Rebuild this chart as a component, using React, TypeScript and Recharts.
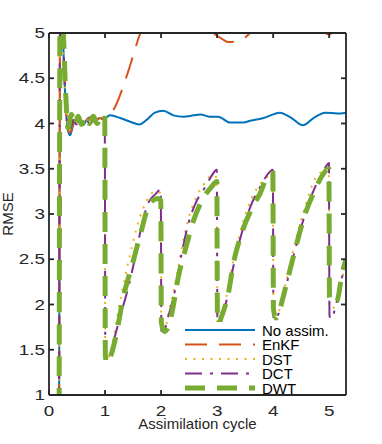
import { LineChart, Line, XAxis, YAxis } from 'recharts';

const xTicks = [0, 1, 2, 3, 4, 5];
const yTicks = [1, 1.5, 2, 2.5, 3, 3.5, 4, 4.5, 5];

// [cycle, rmse]
const noAssim = [
  [0.18, 0.5], [0.2, 5.6], [0.24, 5.1], [0.29, 4.3], [0.34, 3.92], [0.375, 3.87], [0.43, 3.98],
  [0.49, 4.06], [0.55, 4.02], [0.61, 3.98], [0.67, 4.04], [0.73, 4.07], [0.79, 4.03], [0.85, 4.04],
  [0.91, 4.06], [0.97, 4.05], [1.03, 4.07], [1.09, 4.09], [1.27, 4.06], [1.45, 4.02], [1.61, 3.99],
  [1.74, 4.04], [1.89, 4.12], [2.04, 4.14], [2.22, 4.09], [2.4, 4.075], [2.58, 4.09], [2.7, 4.1],
  [2.875, 4.075], [3.02, 4.075], [3.23, 4.01], [3.47, 4.01], [3.59, 4.03], [3.83, 4.06], [4.12, 4.12],
  [4.33, 4.06], [4.53, 3.98], [4.72, 4.06], [4.93, 4.12], [5.14, 4.11], [5.3, 4.12],
];

const enkf = [
  [0.18, 0.5], [0.2, 5.6], [0.24, 5.1], [0.29, 4.3], [0.34, 3.93], [0.375, 3.9], [0.43, 4.0],
  [0.49, 4.05], [0.55, 4.01], [0.61, 3.99], [0.67, 4.04], [0.73, 4.06], [0.79, 4.02], [0.85, 4.04],
  [0.91, 4.06], [0.97, 4.05], [1.0, 4.06], [1.15, 4.15], [1.4, 4.55], [1.63, 5.0], [1.9, 5.35],
  [2.3, 5.5], [2.6, 5.3], [2.85, 5.03], [2.95, 4.99], [3.1, 4.93], [3.2, 4.9], [3.35, 4.91],
  [3.5, 4.95], [3.62, 5.02], [3.9, 5.2], [4.4, 5.3], [4.8, 5.1], [5.0, 4.98], [5.1, 5.05], [5.3, 5.2],
];

const dst = [
  [0.18, 0.5], [0.2, 5.6], [0.24, 5.1], [0.29, 4.3], [0.34, 3.95], [0.38, 3.96], [0.43, 4.04],
  [0.49, 3.99], [0.55, 4.06], [0.61, 4.0], [0.67, 4.04], [0.73, 3.99], [0.8, 4.06], [0.86, 4.0],
  [0.92, 4.05], [0.995, 4.05],
  [1.005, 1.5], [1.04, 1.4], [1.12, 1.52], [1.24, 1.94], [1.36, 2.31], [1.48, 2.64], [1.625, 2.97],
  [1.74, 3.14], [1.83, 3.23], [1.95, 3.25], [1.995, 3.22],
  [2.005, 1.72], [2.05, 1.68], [2.13, 1.9], [2.25, 2.22], [2.37, 2.62], [2.49, 2.95], [2.64, 3.2],
  [2.79, 3.35], [2.91, 3.43], [2.995, 3.4],
  [3.005, 1.8], [3.04, 1.78], [3.17, 2.1], [3.29, 2.48], [3.44, 2.86], [3.62, 3.18], [3.77, 3.33],
  [3.86, 3.39], [3.995, 3.45],
  [4.005, 1.88], [4.04, 1.85], [4.21, 2.2], [4.39, 2.68], [4.57, 3.08], [4.75, 3.39], [4.87, 3.47],
  [4.995, 3.5],
  [5.005, 2.0], [5.05, 1.95], [5.12, 2.02], [5.2, 2.22], [5.3, 2.45],
];

const dct = [
  [0.18, 0.5], [0.2, 5.6], [0.24, 5.1], [0.29, 4.3], [0.34, 3.95], [0.38, 3.95], [0.43, 4.04],
  [0.49, 3.99], [0.55, 4.06], [0.61, 4.0], [0.67, 4.04], [0.73, 3.99], [0.8, 4.06], [0.86, 4.0],
  [0.92, 4.05], [0.995, 4.05],
  [1.005, 1.46], [1.05, 1.39], [1.15, 1.59], [1.27, 1.87], [1.42, 2.2], [1.54, 2.53], [1.65, 2.86],
  [1.77, 3.12], [1.9, 3.22], [1.995, 3.27],
  [2.005, 1.72], [2.03, 1.68], [2.13, 1.87], [2.25, 2.16], [2.37, 2.57], [2.49, 2.9], [2.64, 3.15],
  [2.79, 3.3], [2.91, 3.43], [2.995, 3.49],
  [3.005, 1.8], [3.03, 1.77], [3.17, 2.05], [3.29, 2.42], [3.44, 2.79], [3.62, 3.12], [3.77, 3.3],
  [3.88, 3.42], [3.995, 3.49],
  [4.005, 1.86], [4.03, 1.83], [4.21, 2.16], [4.39, 2.6], [4.57, 3.0], [4.75, 3.3], [4.88, 3.45],
  [4.995, 3.56],
  [5.005, 1.88], [5.03, 1.84], [5.1, 1.94], [5.2, 2.23], [5.3, 2.45],
];

const dwt = [
  [0.18, 0.5], [0.2, 5.6], [0.25, 5.1], [0.3, 4.3], [0.34, 3.95], [0.4, 4.1], [0.46, 3.98],
  [0.52, 4.08], [0.58, 3.99], [0.64, 4.08], [0.72, 4.0], [0.79, 4.08], [0.86, 4.0], [0.93, 4.09],
  [0.995, 4.1],
  [1.005, 1.45], [1.03, 1.35], [1.1, 1.43], [1.18, 1.61], [1.33, 2.09], [1.49, 2.45], [1.65, 2.82],
  [1.8, 3.12], [1.95, 3.17], [1.995, 3.15],
  [2.005, 1.8], [2.06, 1.7], [2.1, 1.72], [2.19, 1.9], [2.31, 2.31], [2.43, 2.6], [2.58, 2.93],
  [2.73, 3.15], [2.9, 3.3], [2.995, 3.36],
  [3.005, 1.9], [3.03, 1.79], [3.08, 1.87], [3.2, 2.12], [3.29, 2.45], [3.44, 2.79], [3.65, 3.1],
  [3.77, 3.23], [3.89, 3.41], [3.995, 3.45],
  [4.005, 1.95], [4.05, 1.85], [4.12, 1.95], [4.21, 2.16], [4.39, 2.6], [4.57, 3.0], [4.75, 3.27],
  [4.87, 3.42], [4.995, 3.5],
  [5.005, 2.08], [5.05, 2.01], [5.14, 2.04], [5.23, 2.34], [5.3, 2.5],
];

const toPoints = (rows: number[][]) => rows.map(([t, v]) => ({ t, v }));

const series = [
  { name: 'No assim.', rows: noAssim, color: '#0072BD', width: 2, dash: undefined },
  { name: 'EnKF', rows: enkf, color: '#D95319', width: 2, dash: '22 12' },
  { name: 'DST', rows: dst, color: '#EDB120', width: 2, dash: '2 6.5' },
  { name: 'DCT', rows: dct, color: '#7E2F8E', width: 2, dash: '17 8 3 8' },
  { name: 'DWT', rows: dwt, color: '#77AC30', width: 5, dash: '20 12' },
];

const ink = '#262626';
const font = '"Liberation Sans", Arial, Helvetica, sans-serif';
const lineStyle = { stroke: ink, strokeWidth: 1.8 };
const TICK = 5;

// tick labels in the original are drawn a bit wider than plain Arial
function TickText({ x, y, anchor, children }: any) {
  return (
    <text
      transform={`translate(${x} ${y}) scale(1.3 1)`}
      textAnchor={anchor}
      fill={ink}
      fontSize={14.5}
      fontFamily={font}
    >
      {children}
    </text>
  );
}

const BottomTick = ({ x, y, payload }: any) => (
  <g>
    <line x1={x} x2={x} y1={y} y2={y - TICK} {...lineStyle} />
    <TickText x={x} y={y + 20.5} anchor="middle">{payload.value}</TickText>
  </g>
);

const LeftTick = ({ x, y, payload }: any) => (
  <g>
    <line x1={x} x2={x + TICK} y1={y} y2={y} {...lineStyle} />
    <TickText x={x - 4} y={y + 5} anchor="end">{payload.value}</TickText>
  </g>
);

const TopTick = ({ x, y }: any) => <line x1={x} x2={x} y1={y} y2={y + TICK} {...lineStyle} />;
const RightTick = ({ x, y }: any) => <line x1={x - TICK} x2={x} y1={y} y2={y} {...lineStyle} />;

function ChartLegend() {
  return (
    <div style={{ position: 'absolute', left: 183, top: 322, width: 162, height: 72, background: '#fff' }}>
      <svg width={162} height={72} style={{ overflow: 'visible' }}>
        {series.map((s, i) => {
          const y = 8 + i * 14.5;
          return (
            <g key={s.name}>
              <line x1={2} x2={72} y1={y} y2={y} stroke={s.color} strokeWidth={s.width} strokeDasharray={s.dash} />
              <text x={79} y={y + 5.5} fill="#000" fontSize={15} fontFamily={font}>{s.name}</text>
            </g>
          );
        })}
      </svg>
    </div>
  );
}

export default function App() {
  return (
    <div style={{ position: 'relative', width: 382, height: 444, background: '#fff' }}>
      <style>{'body{margin:0}'}</style>
      <LineChart width={382} height={444} margin={{ top: 32, right: 35, bottom: 0, left: 0 }}>
        <XAxis
          type="number"
          dataKey="t"
          domain={[0, 5.3]}
          ticks={xTicks}
          interval={0}
          allowDataOverflow
          height={49}
          tickSize={0}
          tickMargin={0}
          tick={BottomTick}
          tickLine={false}
          axisLine={lineStyle}
          label={{
            content: ({ viewBox }: any) => (
              <text x={viewBox.x + viewBox.width / 2} y={429} textAnchor="middle" fill={ink} fontSize={15} fontFamily={font}>
                Assimilation cycle
              </text>
            ),
          }}
        />
        <XAxis
          xAxisId="top"
          orientation="top"
          type="number"
          dataKey="t"
          domain={[0, 5.3]}
          ticks={xTicks}
          interval={0}
          allowDataOverflow
          height={1}
          tickSize={0}
          tickMargin={0}
          tick={TopTick}
          tickLine={false}
          axisLine={lineStyle}
        />
        <YAxis
          type="number"
          domain={[1, 5]}
          ticks={yTicks}
          interval={0}
          allowDataOverflow
          width={49}
          tickSize={0}
          tickMargin={0}
          tick={LeftTick}
          tickLine={false}
          axisLine={lineStyle}
          label={{
            content: ({ viewBox }: any) => {
              const cy = viewBox.y + viewBox.height / 2;
              return (
                <text x={12.5} y={cy} transform={`rotate(-90 12.5 ${cy})`} textAnchor="middle" fill={ink} fontSize={15} fontFamily={font}>
                  RMSE
                </text>
              );
            },
          }}
        />
        <YAxis
          yAxisId="right"
          orientation="right"
          type="number"
          domain={[1, 5]}
          ticks={yTicks}
          interval={0}
          allowDataOverflow
          width={1}
          tickSize={0}
          tickMargin={0}
          tick={RightTick}
          tickLine={false}
          axisLine={lineStyle}
        />
        {series.map((s, i) => (
          <Line
            key={s.name}
            data={toPoints(s.rows)}
            dataKey="v"
            name={s.name}
            // the mirrored box axes share the same domains; give them a series so they render
            xAxisId={i === 0 ? 'top' : 0}
            yAxisId={i === 0 ? 'right' : 0}
            type="monotone"
            stroke={s.color}
            strokeWidth={s.width}
            strokeDasharray={s.dash}
            dot={false}
            activeDot={false}
            isAnimationActive={false}
          />
        ))}
      </LineChart>
      <ChartLegend />
    </div>
  );
}
